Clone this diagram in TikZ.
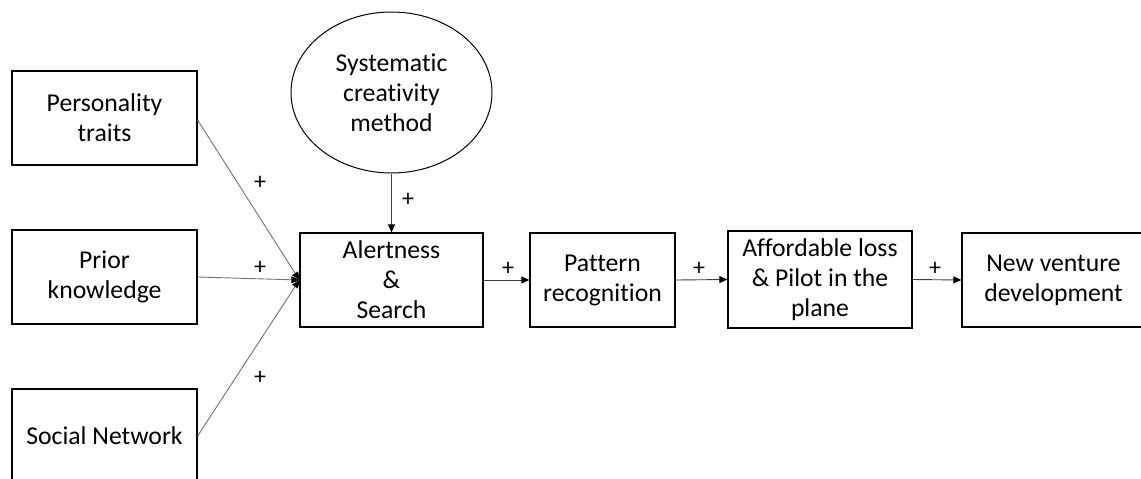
\documentclass[tikz,border=0pt]{standalone}
\usepackage{fontspec}
\setmainfont{Carlito}[Ligatures=NoCommon]
\usetikzlibrary{shapes.geometric,arrows.meta}

\begin{document}
\begin{tikzpicture}[x=1pt,y=-1pt,
  every node/.style={font=\fontsize{25.7}{30}\selectfont, align=center, inner sep=0pt},
  box/.style={draw=black, line width=1.2pt, rectangle, minimum width=#1, minimum height=94pt},
  oval/.style={draw=black, line width=1pt, ellipse, minimum width=201pt, minimum height=161pt},
  link/.style={draw=black!55, line width=0.9pt, -{Triangle[length=8pt,width=7pt,color=black]}},
  flow/.style={draw=black!75, line width=0.9pt, -{Triangle[length=8pt,width=7pt,color=black]}},
  sign/.style={font=\fontsize{24}{28}\selectfont}
]
\useasboundingbox (0,0) rectangle (1141,479);
\clip (0,0) rectangle (1141,479);

% antecedents on the left
\node[box=185pt] (pers) at (104.5,118) {Personality\\traits};
\node[box=185pt] (prior) at (104.5,277) {Prior\\knowledge};
\node[box=185pt] (social) at (104.5,436) {Social Network};

% moderator
\node[oval] (sys) at (391.5,92.5) {Systematic\\creativity\\method};

% main process chain
\node[box=183pt] (alert) at (391.5,280) {Alertness\\\&\\Search};
\node[box=145pt] (pattern) at (602.5,280) {Pattern\\recognition};
\node[box=184pt, minimum height=97pt] (afford) at (820,279.5) {Affordable loss\\\& Pilot in the\\plane};
\node[box=183pt] (venture) at (1053.5,280) {New venture\\development};

% connectors
\draw[link] (pers.east |- 0,120) -- (alert.west);
\draw[link] (prior.east) -- (alert.west);
\draw[link] (social.east) -- (alert.west);
\draw[flow] (sys.south) -- (alert.north);
\draw[flow] (alert.east) -- (pattern.west);
\draw[flow] (pattern.east) -- (afford.west);
\draw[flow] (afford.east) -- (venture.west);

% signs
\node[sign] (s1) at (260,183) {+};
\node[sign] (s2) at (260,268) {+};
\node[sign] (s3) at (260,378) {+};
\node[sign] (s4) at (408,200) {+};
\node[sign] (s5) at (508,269) {+};
\node[sign] (s6) at (699,269) {+};
\node[sign] (s7) at (935,269) {+};
\end{tikzpicture}
\end{document}
